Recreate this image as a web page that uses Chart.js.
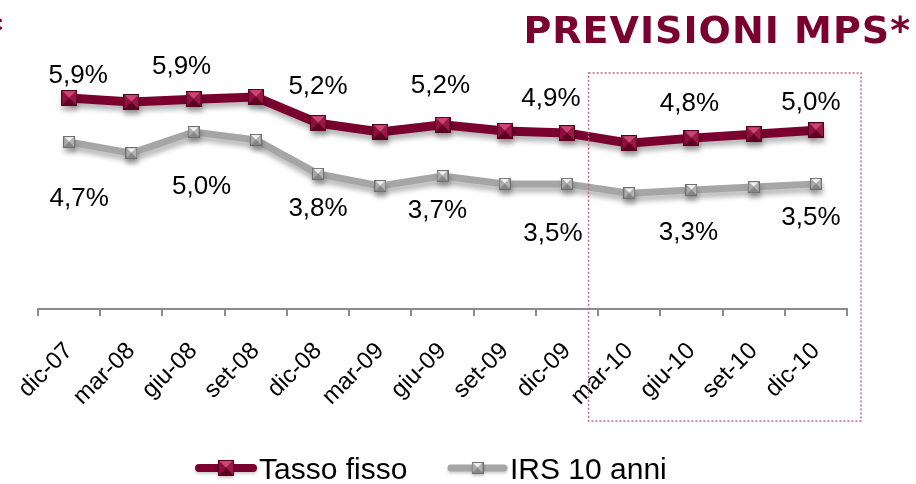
<!DOCTYPE html>
<html><head><meta charset="utf-8">
<script src="https://cdn.jsdelivr.net/npm/chart.js@4.4.1/dist/chart.umd.min.js"></script>
<style>html,body{margin:0;padding:0;background:#fff;}#wrap{width:916px;height:484px;position:relative;}</style>
</head><body><div id="wrap"><canvas id="c" width="916" height="484"></canvas></div>
<script>
// ---- data ----
const categories = ['dic-07','mar-08','giu-08','set-08','dic-08','mar-09','giu-09','set-09','dic-09','mar-10','giu-10','set-10','dic-10'];
const tassoFisso = [5.9, 5.79, 5.87, 5.93, 5.2, 4.95, 5.15, 4.98, 4.92, 4.64, 4.78, 4.89, 5.0];
const irs10 = [4.67, 4.36, 4.95, 4.73, 3.78, 3.44, 3.72, 3.5, 3.5, 3.24, 3.33, 3.41, 3.5];
const labelledIdx = [0, 2, 4, 6, 8, 10, 12];
const seriesNames = ['Tasso fisso', 'IRS 10 anni'];
const titleText = 'PREVISIONI MPS*';

// ---- style ----
const MAROON = '#7a0030';
const GRAY = '#a6a6a6';
const FONT = '"Liberation Sans", Arial, sans-serif';
const labelOffsets = [
  [[9,-24],[-12,-34],[0,-38],[-2,-41],[-16,-36],[-2,-36],[-5,-29]],
  [[10,55],[8,53],[0,33],[-5,33],[-14,48],[-3,41],[-5,32]]
];

function tri(g, pts, col){g.beginPath();g.moveTo(pts[0][0],pts[0][1]);g.lineTo(pts[1][0],pts[1][1]);g.lineTo(pts[2][0],pts[2][1]);g.closePath();g.fillStyle=col;g.fill();}
function makeMarker(size, c){
  const cv=document.createElement('canvas');cv.width=size;cv.height=size;
  const g=cv.getContext('2d');const s=size,m=s/2,a=1,b=s-1;
  g.fillStyle=c.edge;g.fillRect(0,0,s,s);
  tri(g,[[a,a],[b,a],[m,m]],c.top);
  tri(g,[[b,a],[b,b],[m,m]],c.right);
  tri(g,[[a,b],[b,b],[m,m]],c.bottom);
  tri(g,[[a,a],[a,b],[m,m]],c.left);
  return cv;
}
const maroonMarker = makeMarker(16,{edge:'#55001c',top:'#cc4673',left:'#8e0f3f',right:'#9a1747',bottom:'#5e001f'});
const grayMarker = makeMarker(12,{edge:'#6e6e6e',top:'#efefef',left:'#a9a9a9',right:'#b3b3b3',bottom:'#858585'});
const markers=[maroonMarker, grayMarker];
const lineColors=[MAROON, GRAY];

const shadowPlugin={id:'shadow',
  beforeDatasetDraw(chart){const c=chart.ctx;c.save();c.shadowColor='rgba(0,0,0,0.28)';c.shadowBlur=5;c.shadowOffsetX=1;c.shadowOffsetY=5;},
  afterDatasetDraw(chart){chart.ctx.restore();}
};
const decoPlugin={id:'deco',
  beforeDraw(chart){const c=chart.ctx;c.save();c.fillStyle='#fff';c.fillRect(0,0,chart.width,chart.height);c.restore();},
  afterDatasetsDraw(chart){
    const c=chart.ctx;c.save();
    c.font='26px '+FONT;c.fillStyle='#000';c.textAlign='center';c.textBaseline='alphabetic';
    [0,1].forEach(di=>{
      const meta=chart.getDatasetMeta(di);const vals=chart.data.datasets[di].data;
      labelledIdx.forEach((idx,k)=>{
        const p=meta.data[idx];const o=labelOffsets[di][k];
        const txt=vals[idx].toFixed(1).replace('.',',')+'%';
        c.fillText(txt,p.x+o[0],p.y+o[1]+9);
      });
    });
    c.restore();
  },
  afterDraw(chart){
    const c=chart.ctx;const xs=chart.scales.x;
    c.save();
    // title
    c.font='bold 38px "DejaVu Sans", Verdana, sans-serif';c.fillStyle=MAROON;c.textAlign='right';c.textBaseline='alphabetic';
    if('letterSpacing' in c){c.letterSpacing='1px';}
    c.fillText(titleText,911,43);
    c.fillText('*',4,43);
    if('letterSpacing' in c){c.letterSpacing='0px';}
    // dotted box
    const left=xs.getPixelForValue(8.5)-9.5;
    c.strokeStyle='#b86a8a';c.lineWidth=1.5;c.setLineDash([2,2]);
    c.strokeRect(left,73,861-left,348);
    c.setLineDash([]);
    // legend
    const items=[{x1:195,x2:257,tx:259},{x1:447,x2:508,tx:510}];
    const ly=468;
    items.forEach((it,i)=>{
      c.save();
      c.shadowColor='rgba(0,0,0,0.2)';c.shadowBlur=3;c.shadowOffsetY=2;
      c.strokeStyle=lineColors[i];c.lineWidth=i===0?8:7;c.lineCap='round';
      c.beginPath();c.moveTo(it.x1+4,ly);c.lineTo(it.x2-4,ly);c.stroke();
      const mk=markers[i];c.drawImage(mk,(it.x1+it.x2)/2-mk.width/2,ly-mk.height/2);
      c.restore();
      c.font='30px '+FONT;c.fillStyle='#000';c.textAlign='left';c.textBaseline='alphabetic';
      c.fillText(seriesNames[i],it.tx,479);
    });
    c.restore();
  }
};

new Chart(document.getElementById('c'),{
  type:'line',
  data:{labels:categories,datasets:[
    {label:seriesNames[0],data:tassoFisso,borderColor:MAROON,borderWidth:9,pointStyle:maroonMarker,pointRadius:8,tension:0,borderJoinStyle:'miter',fill:false},
    {label:seriesNames[1],data:irs10,borderColor:GRAY,borderWidth:7,pointStyle:grayMarker,pointRadius:6,tension:0,borderJoinStyle:'miter',fill:false}
  ]},
  options:{
    responsive:false,devicePixelRatio:1,animation:false,
    layout:{padding:{top:23,left:38,right:69,bottom:0}},
    plugins:{legend:{display:false},tooltip:{enabled:false},title:{display:false}},
    scales:{
      x:{type:'category',offset:true,
        grid:{offset:true,display:true,drawOnChartArea:false,drawTicks:true,tickLength:7,color:'#8c8c8c',lineWidth:2},
        border:{display:true,color:'#8c8c8c',width:2},
        ticks:{minRotation:45,maxRotation:45,padding:21,autoSkip:false,color:'#000',font:{family:'"Liberation Sans", Arial, sans-serif',size:24}},
        afterFit(s){s.height=175;}
      },
      y:{display:false,min:0,max:8}
    }
  },
  plugins:[shadowPlugin,decoPlugin]
});
</script></body></html>
